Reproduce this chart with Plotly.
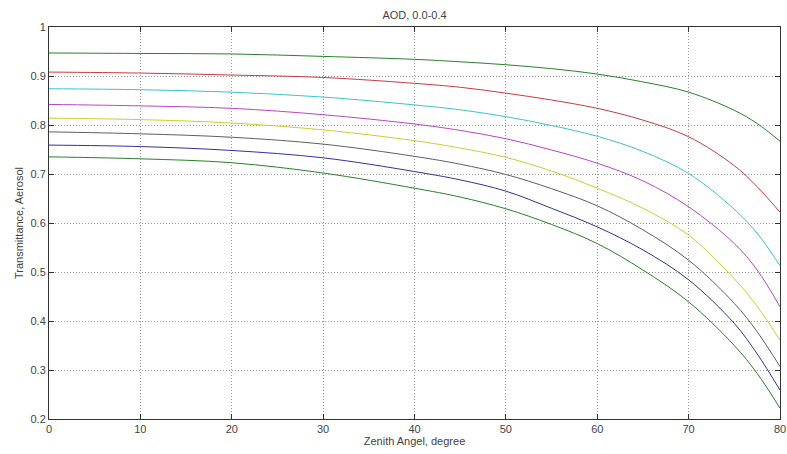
import plotly.graph_objects as go

# Zenith angle samples (degrees)
zenith = [0, 10, 20, 30, 40, 45, 50, 55, 60, 65, 70, 75, 77.5, 80]

# Aerosol transmittance curves, one per optical-depth step (lowest AOD first)
t_aod_1 = [0.947, 0.946, 0.945, 0.940, 0.934, 0.929, 0.923, 0.915, 0.904, 0.888, 0.867, 0.830, 0.803, 0.767]
t_aod_2 = [0.908, 0.906, 0.902, 0.897, 0.885, 0.877, 0.865, 0.851, 0.834, 0.810, 0.776, 0.717, 0.674, 0.622]
t_aod_3 = [0.874, 0.872, 0.867, 0.857, 0.841, 0.831, 0.817, 0.799, 0.777, 0.746, 0.701, 0.628, 0.579, 0.513]
t_aod_4 = [0.842, 0.839, 0.834, 0.821, 0.802, 0.789, 0.772, 0.749, 0.722, 0.686, 0.633, 0.558, 0.504, 0.429]
t_aod_5 = [0.814, 0.811, 0.804, 0.790, 0.768, 0.753, 0.734, 0.706, 0.671, 0.630, 0.575, 0.486, 0.430, 0.361]
t_aod_6 = [0.786, 0.782, 0.775, 0.761, 0.736, 0.720, 0.699, 0.670, 0.635, 0.586, 0.524, 0.436, 0.378, 0.307]
t_aod_7 = [0.759, 0.756, 0.748, 0.733, 0.705, 0.688, 0.665, 0.630, 0.592, 0.545, 0.484, 0.395, 0.333, 0.259]
t_aod_8 = [0.735, 0.731, 0.723, 0.702, 0.671, 0.653, 0.629, 0.597, 0.558, 0.504, 0.439, 0.350, 0.293, 0.222]

curves = [t_aod_1, t_aod_2, t_aod_3, t_aod_4, t_aod_5, t_aod_6, t_aod_7, t_aod_8]
colors = ["rgb(40,130,40)", "rgb(200,60,60)", "rgb(60,195,205)", "rgb(185,70,195)",
          "rgb(205,205,50)", "rgb(95,95,95)", "rgb(50,50,150)", "rgb(40,130,40)"]

x_ticks = [0, 10, 20, 30, 40, 50, 60, 70, 80]
y_ticks = [0.2, 0.3, 0.4, 0.5, 0.6, 0.7, 0.8, 0.9, 1]
y_tick_text = ["0.2", "0.3", "0.4", "0.5", "0.6", "0.7", "0.8", "0.9", "1"]

fig = go.Figure()
for vals, col in zip(curves, colors):
    fig.add_trace(go.Scatter(
        x=zenith, y=vals, mode="lines",
        line=dict(color=col, width=1, shape="spline", smoothing=1.0),
        showlegend=False, hoverinfo="skip",
    ))

font = dict(family="Liberation Sans, Arial, sans-serif", size=11, color="#444")

axis_common = dict(
    showline=True, linecolor="#333", linewidth=1, mirror="allticks",
    ticks="inside", ticklen=5, tickcolor="#333",
    showgrid=True, gridcolor="#999", gridwidth=1, griddash="1px,2px",
    zeroline=False, tickfont=font, automargin=False,
)

fig.update_layout(
    width=787, height=454,
    margin=dict(l=49, r=7, t=27, b=35, autoexpand=False),
    paper_bgcolor="white", plot_bgcolor="white",
    font=font,
    title=dict(text="AOD, 0.0-0.4", x=0.5, xref="paper", xanchor="center",
               y=0.967, yref="container", yanchor="middle",
               font=dict(family="Liberation Sans, Arial, sans-serif", size=11, color="#444")),
    xaxis=dict(range=[0, 80], tickvals=x_ticks,
               title=dict(text="Zenith Angel, degree", standoff=0, font=font),
               **axis_common),
    yaxis=dict(range=[0.2, 1], tickvals=y_ticks, ticktext=y_tick_text,
               title=dict(text="Transmittance, Aerosol", standoff=4, font=font),
               **axis_common),
)

fig.write_html("out.html")
